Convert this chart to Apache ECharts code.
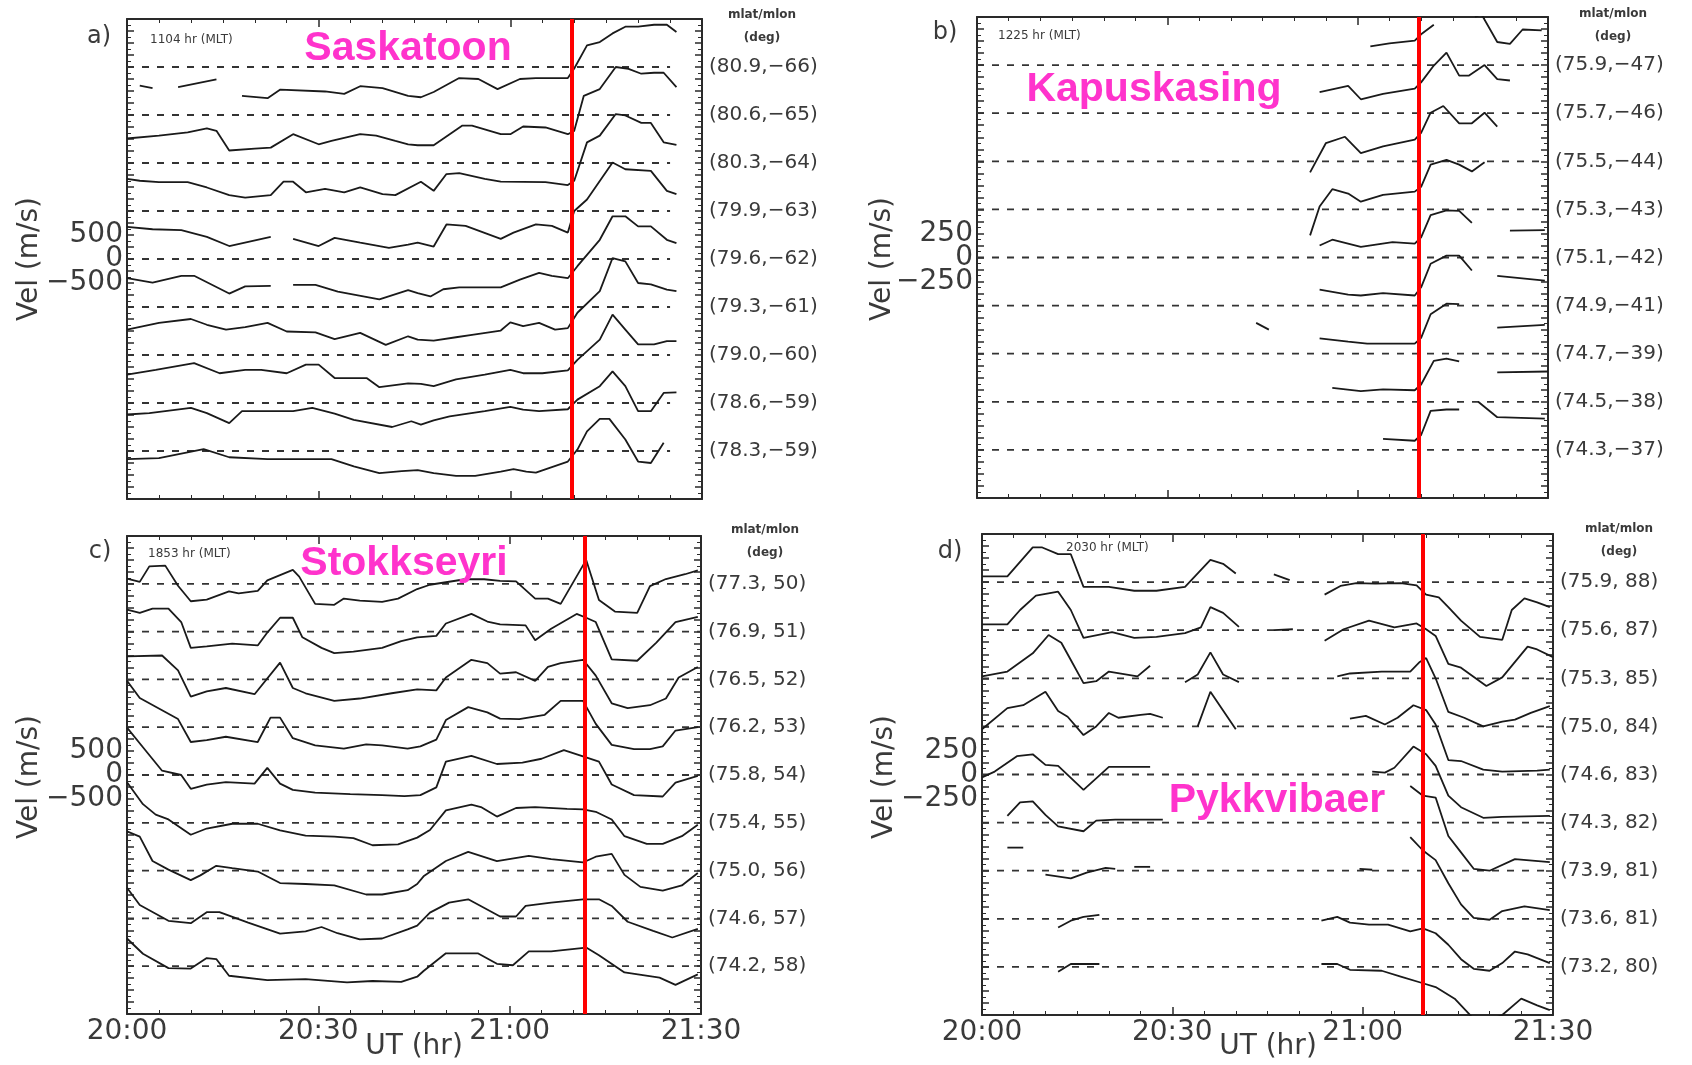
<!DOCTYPE html>
<html>
<head>
<meta charset="utf-8">
<script src="https://cdn.jsdelivr.net/npm/echarts@6/dist/echarts.min.js"></script>
<style>
  html, body { margin: 0; padding: 0; background: #fff; }
  #chart { width: 1692px; height: 1065px; }
</style>
</head>
<body>
<div id="chart"></div>
<script>
// time axis is minutes after 20:00 UT
const xTickLabels = ['20:00', '20:30', '21:00', '21:30'];
const stations = ['Saskatoon', 'Kapuskasing', 'Stokkseyri', 'Pykkvibaer'];
const panelTags = ['a)', 'b)', 'c)', 'd)'];
const mltText = ['1104 hr (MLT)', '1225 hr (MLT)', '1853 hr (MLT)', '2030 hr (MLT)'];
const slotVel = [1000, 500, 1000, 500];          // m/s between stacked traces
const velTicks = [[500, 0, -500], [250, 0, -250], [500, 0, -500], [250, 0, -250]];
const onsetMin = [69.6, 69.6, 71.8, 69.5];        // red line
const baseEnd = [85, 90, 90, 90];                 // end of dashed zero lines

const beamsA = ['(80.9,\u221266)', '(80.6,\u221265)', '(80.3,\u221264)', '(79.9,\u221263)', '(79.6,\u221262)', '(79.3,\u221261)', '(79.0,\u221260)', '(78.6,\u221259)', '(78.3,\u221259)'];
const beamsB = ['(75.9,\u221247)', '(75.7,\u221246)', '(75.5,\u221244)', '(75.3,\u221243)', '(75.1,\u221242)', '(74.9,\u221241)', '(74.7,\u221239)', '(74.5,\u221238)', '(74.3,\u221237)'];
const beamsC = ['(77.3, 50)', '(76.9, 51)', '(76.5, 52)', '(76.2, 53)', '(75.8, 54)', '(75.4, 55)', '(75.0, 56)', '(74.6, 57)', '(74.2, 58)'];
const beamsD = ['(75.9, 88)', '(75.6, 87)', '(75.3, 85)', '(75.0, 84)', '(74.6, 83)', '(74.3, 82)', '(73.9, 81)', '(73.6, 81)', '(73.2, 80)'];

// [minute, velocity m/s], null = data gap; top trace first
const velA = [
  [[2,-390],[4,-440],null,[8,-420],[14,-260],null,[18,-600],[22,-650],[24,-470],[31,-510],[34,-560],[36.5,-400],[40,-440],[44,-600],[46,-630],[48,-520],[52,-230],[55,-250],[58,-460],[61.5,-250],[64,-230],[69,-230],[70,-30],[72,450],[74,520],[76,700],[78,840],[80,840],[82.5,880],[84.5,880],[86,730]],
  [[0,-490],[5,-430],[9.5,-360],[12.5,-280],[14,-330],[16,-740],[20,-700],[22.5,-680],[26,-400],[30,-610],[32,-540],[36.5,-400],[39,-430],[42,-540],[44,-610],[45.5,-630],[48,-630],[52.5,-220],[54,-220],[58.5,-400],[60,-400],[62,-240],[65.5,-260],[69,-400],[70,-330],[71.5,400],[74,540],[76.5,1000],[78.5,960],[80.5,860],[82.5,880],[84,880],[86,580]],
  [[0,-330],[2,-370],[5,-400],[9.5,-400],[12.5,-510],[16,-670],[18.5,-720],[22.5,-670],[24.5,-390],[26,-390],[28,-610],[31,-540],[34,-610],[36.5,-510],[40,-650],[42,-670],[46,-390],[48,-580],[50,-230],[52,-210],[56,-330],[58.5,-390],[65.5,-400],[69,-460],[70,-370],[72,430],[74,570],[76.5,1020],[78,990],[80.5,835],[82,835],[84,430],[86,380]],
  [[0,-330],[4,-380],[8.5,-400],[12.5,-540],[16,-730],[22.5,-540],null,[26,-580],[30,-730],[32.5,-560],[36.5,-660],[41,-770],[44,-700],[45.5,-660],[48,-740],[50,-280],[53,-310],[58.5,-580],[60.5,-450],[64,-280],[66.5,-310],[69,-450],[70,0],[72,240],[76,1010],[78,870],[82,835],[84.5,420],[86,350]],
  [[0,-400],[4,-490],[8.5,-350],[10.5,-350],[16,-720],[18.5,-570],[22.5,-560],null,[26,-540],[29.5,-540],[33,-680],[39.5,-840],[44,-650],[45.5,-710],[47.5,-780],[49.5,-630],[52,-590],[58.5,-590],[61.5,-430],[64.5,-290],[66.5,-350],[69,-400],[70.5,-150],[74,400],[76,890],[78,890],[80,680],[82,680],[84.5,400],[86,330]],
  [[0,-470],[5,-330],[10,-250],[12.5,-370],[15.5,-470],[18.5,-420],[22,-330],[25,-510],[29.5,-530],[32.5,-670],[36.5,-540],[40.5,-790],[44,-610],[45.5,-680],[48,-700],[51.5,-630],[54,-580],[58.5,-490],[60,-320],[62,-400],[64.5,-330],[67,-470],[69,-440],[70.5,-120],[74,330],[76,1020],[78,950],[80,500],[82,470],[84.5,360],[86,330]],
  [[0,-410],[4.5,-310],[10.5,-170],[14.5,-380],[18.5,-310],[21,-310],[25,-380],[28,-200],[30,-200],[32.5,-480],[37.5,-480],[39.5,-670],[44,-590],[46,-600],[48,-650],[51.5,-510],[56,-410],[60,-310],[62,-380],[65,-380],[69,-320],[70.5,-100],[74,320],[76,840],[78,530],[80,220],[82.5,220],[84.5,290],[86,290]],
  [[0,-240],[3.5,-210],[10,-100],[12.5,-210],[16,-420],[18,-170],[26,-170],[29,-100],[32.5,-220],[35.5,-350],[41.5,-500],[44.5,-380],[46,-450],[48,-360],[50.5,-280],[56,-170],[60,-80],[62,-140],[64.5,-170],[69,-130],[70.5,70],[74,350],[76,660],[78,350],[80,-170],[82,-170],[84,210],[86,220]],
  [[0,-170],[5,-150],[12,40],[16,-130],[22,-170],[32,-170],[35.5,-320],[39.5,-460],[43,-420],[45.5,-400],[48,-460],[51.5,-520],[54.5,-520],[58.5,-430],[60.5,-380],[62.5,-430],[64,-450],[69,-220],[70.5,30],[72,410],[74,670],[75.5,670],[78,240],[80,-220],[82,-250],[84,170]]
];

const velB = [
  [[62,195],[65,225],[69,255],[70,320],[72,420],null,[78.5,500],[79.5,530],[82,240],[84,220],[86,370],[89,360]],
  [[54,220],[58.5,285],[60.5,145],[64,200],[69,255],[70,320],[72,495],[74,630],[76,390],[77.5,390],[80,500],[82,355],[84,340]],
  [[52.5,-115],[55,190],[58,255],[60.5,85],[64,155],[69,225],[70,295],[71.5,505],[73.5,575],[76,395],[78,395],[80,505],[82,360]],
  [[52.5,-270],[54,30],[56,210],[58.5,165],[60.5,80],[64,150],[69,185],[70,235],[71.5,465],[74,515],[76,465],[78,395],[80,490]],
  [[54,125],[56,185],[60.5,110],[65.5,160],[69,145],[70,210],[71.5,440],[74,490],[76,485],[78,360],null,[84,280],[89.5,285]],
  [[54,165],[58.5,115],[60.5,105],[64,130],[69,105],[70,190],[71.5,435],[74,520],[76,520],[78,365],null,[82,310],[89.5,260]],
  [[44,320],[46,250],null,[54,160],[58.5,125],[61.5,105],[69,105],[70,165],[71.5,410],[74,520],[76,515],null,[82,270],[89.5,300]],
  [[56,145],[60.5,110],[64,130],[69,120],[70,180],[72,425],[74,450],[76,420],null,[82,305],[90,315]],
  [[64,115],[69,95],[70,155],[71.5,405],[74,420],[76,420],null,[79,500],[82,340],[89.5,325]]
];

const velC = [
  [[0,110],[2,40],[3.5,365],[6,380],[8,-40],[10,-365],[12.5,-330],[16,-160],[17.5,-200],[20.5,-150],[22,70],[26,290],[27,150],[29.5,-420],[32.5,-440],[34,-310],[36.5,-350],[40,-380],[42.5,-310],[45.5,-110],[47.5,-20],[53,95],[56,95],[58.5,60],[61,50],[64,-310],[66,-310],[68,-420],[72,500],[74,-340],[76.5,-580],[80,-610],[82,-50],[84.5,100],[87.5,200],[89.5,280]],
  [[0,460],[2,390],[4,480],[6.5,480],[8.5,200],[10,-340],[12.5,-310],[16.5,-250],[20.5,-290],[22,-20],[24,290],[26,290],[27.5,-120],[30.5,-340],[32.5,-450],[35.5,-420],[40,-340],[43,-200],[45.5,-120],[48.5,-90],[50,170],[54,370],[56.5,210],[58.5,150],[62.5,130],[64,-180],[66.5,60],[70.5,370],[72,290],[73.5,200],[76,-580],[80,-610],[83,-230],[86,200],[89.5,310]],
  [[0,480],[5.5,500],[8,190],[10,-360],[12.5,-250],[15.5,-180],[20,-310],[24,350],[26,-180],[28,-290],[32.5,-450],[36.5,-400],[41.5,-290],[45.5,-210],[48.5,-230],[50,40],[54,410],[56.5,340],[58.5,120],[61,150],[64,-30],[66,260],[68,340],[71.5,410],[73.5,80],[76,-500],[78.5,-600],[82,-540],[84.5,-400],[86.5,40],[89.5,260]],
  [[0,970],[2,610],[5,390],[8,170],[10,-310],[12.5,-270],[15.5,-200],[20.5,-310],[22.5,200],[24,200],[26,-230],[29.5,-380],[34,-450],[37.5,-360],[40,-380],[44,-450],[46,-400],[48.5,-260],[50,150],[53.5,420],[56.5,310],[58.5,180],[61.5,170],[65.5,260],[68,550],[71.5,550],[73.5,70],[76,-370],[79.5,-460],[82,-460],[84,-400],[86,-70],[89.5,0]],
  [[0,990],[2.5,580],[5.5,90],[8.5,0],[10,-290],[12.5,-200],[15.5,-150],[20,-180],[22,150],[24,-180],[26,-310],[29.5,-370],[35,-400],[40,-420],[43.5,-440],[46,-420],[48.5,-260],[50,280],[54,400],[58,230],[62,260],[65,340],[68.5,520],[71.5,390],[74,280],[76,-200],[79.5,-420],[84,-450],[86,-160],[89.5,-20]],
  [[0,850],[2.5,390],[4.5,170],[6.5,70],[10,-250],[12.5,-120],[16.5,-20],[20.5,-20],[24,-160],[28,-270],[32.5,-290],[35.5,-320],[38.5,-470],[42.5,-450],[45.5,-310],[47.5,-150],[50,260],[54,380],[55.5,330],[58,130],[61,310],[64,330],[69,290],[71.5,280],[73.5,230],[76,70],[78,-280],[81.5,-440],[84,-440],[87,-280],[89.5,-40]],
  [[0,820],[2,710],[4,200],[6.5,20],[10,-200],[11.5,-100],[14,100],[16.5,50],[20.5,-20],[24,-260],[28,-280],[32.5,-310],[37.5,-500],[40,-500],[44,-410],[45.5,-280],[46.5,-120],[50,200],[53.5,390],[58,200],[63,310],[66.5,240],[71.5,170],[73.5,290],[76,350],[78,-90],[80.5,-340],[84,-420],[87,-310],[89.5,-50]],
  [[0,640],[2,280],[6.5,-50],[10,-100],[12.5,130],[14.5,130],[19,-90],[24,-320],[28,-270],[30.5,-180],[33,-310],[36.5,-440],[40,-420],[44,-230],[45.5,-150],[47.5,120],[50.5,330],[53.5,400],[58.5,40],[61,40],[62.5,260],[66.5,330],[71.5,400],[74,400],[76,260],[78.5,-70],[82.5,-260],[85.5,-400],[89.5,-220]],
  [[0,580],[2.5,260],[6.5,-40],[10,-50],[12.5,170],[14,150],[16,-200],[22,-290],[28,-270],[34.5,-340],[38.5,-310],[43,-330],[45.5,-220],[46.5,-100],[50,270],[55,270],[58,50],[60.5,20],[63,310],[66.5,310],[72,390],[74,230],[78,-130],[83.5,-240],[86,-390],[89.5,-170]]
];

const velD = [
  [[0,60],[4,60],[8,360],[9.5,360],[12,290],[14,290],[16,-50],[20,-50],[24,-90],[27.5,-90],[32,-50],[33,20],[36,230],[38,190],[40,90],null,[46,80],[48.5,20],null,[54,-130],[56.5,-40],[59,-10],[62,-15],[66,-10],[68.5,-35],[70,-130],[72,-160],[73.5,-260],[75.5,-400],[78.5,-570],[82,-600],[83.5,-290],[85.5,-170],[87.5,-210],[89.5,-260]],
  [[0,60],[4,60],[6,210],[8.5,360],[12,400],[14,210],[16,-80],[20.5,-20],[24,-80],[27.5,-70],[32,-30],[34.5,30],[36,240],[38,180],[40.5,35],null,[46,0],[49,10],null,[54,-110],[57,10],[61,100],[65,30],[68.5,70],[70,10],[71.5,-60],[73.5,-350],[75.5,-390],[79.5,-580],[82,-490],[86,-170],[87.5,-200],[90,-280]],
  [[0,20],[4,70],[8,260],[10.5,450],[12.5,370],[14,190],[16,-50],[18,-30],[20,70],[24.5,20],[26.5,130],null,[32,-40],[34,40],[36,270],[38,40],[40.5,-40],null,[56,20],[58,50],[63,70],[67.5,70],[69,170],[70,210],[71.5,0],[73.5,-350],[76,-410],[79,-500],[82,-450],[84,-430],[86.5,-360],[89.5,-290]],
  [[0,-30],[4,190],[6.5,220],[10,360],[12,160],[13.5,100],[16,-90],[18,0],[20,140],[21.5,90],[25,120],[26.5,130],[28.5,90],null,[34,0],[36,360],[40,-30],null,[58,80],[60.5,110],[63.5,20],[65.5,90],[68,220],[70,170],[71.5,20],[73.5,-350],[75.5,-360],[79,-450],[82,-470],[87.5,-460],[89.5,-450]],
  [[0,-30],[2,30],[5.5,190],[8,210],[10,100],[12,90],[16,-160],[20,80],[26.5,80],null,[61.5,30],[63.5,20],[65,70],[68,290],[70,210],[71.5,90],[73.5,-220],[75.5,-340],[79,-450],[82,-440],[89.5,-430]],
  [[4,70],[6,210],[8,220],[10,80],[12,-40],[16,-90],[18,20],[21,30],[28.5,30],null,[67.5,380],[69.5,280],[71.5,260],[73.5,-140],[75.5,-310],[77.5,-480],[80,-500],[84,-380],[89.5,-410]],
  [[4,240],[6.5,240],null,[10,-40],[14,-80],[16.5,-20],[19.5,30],[21,20],null,[24,40],[26.5,40],null,[59.5,20],[61.5,10],null,[67.5,350],[69.5,210],[71.5,110],[73.5,-130],[75.5,-350],[77.5,-490],[80,-510],[82,-420],[85.5,-370],[89.5,-410]],
  [[12,-90],[14,-20],[16,20],[18.5,40],null,[53.5,-20],[56,20],[58,-40],[61,-60],[64,-60],[67.5,-130],[69.5,-100],[71.5,-150],[73.5,-270],[75.5,-420],[77.5,-520],[80,-540],[82,-460],[84,-340],[86,-370],[89.5,-460]],
  [[12,-50],[14,30],[18.5,30],null,[53.5,30],[56,30],[58,-30],[63,-40],[66,-100],[69.5,-170],[71.5,-210],[74.5,-330],[77.5,-540],[80,-550],[82,-500],[85,-330],[87.5,-400],[89.5,-450]]
];

const panelVel = [velA, velB, velC, velD];
const panelBeams = [beamsA, beamsB, beamsC, beamsD];

// layout (pixels)
const grids = [
  { left: 127, top: 19, width: 575, height: 480 },
  { left: 977, top: 17, width: 571, height: 481 },
  { left: 127, top: 536, width: 574, height: 478 },
  { left: 982, top: 534, width: 571, height: 481 }
];
const tagPos = [[99, 37], [945, 33], [100, 552], [950, 552]];
const mltPos = [[150, 40], [998, 36], [148, 554], [1066, 548]];
const namePos = [[408, 49], [1154, 90], [404, 564], [1277, 801]];
const velNamePos = [[30, 259], [883, 259], [30, 777], [885, 777]];
const degPos = [[762, 15], [1613, 14], [765, 530], [1619, 529]];
const utPos = [[414, 1047], [1268, 1047]];

const ink = '#2a2a2a';
const txt = '#3a3a3a';
const dejavu = '"DejaVu Sans", sans-serif';

function segments(trace) {
  const out = [];
  let cur = [];
  trace.forEach(p => {
    if (p === null) { if (cur.length) out.push(cur); cur = []; }
    else cur.push(p);
  });
  if (cur.length) out.push(cur);
  return out;
}

const xAxes = [], yAxes = [], series = [], graphics = [];

grids.forEach((g, p) => {
  const S = slotVel[p];
  const bottomRow = p >= 2;
  const tickCommon = {
    axisLine: { onZero: false, lineStyle: { color: ink, width: 2 } },
    axisTick: { inside: true, length: 8, lineStyle: { color: ink, width: 1.5 } },
    minorTick: { show: true, splitNumber: 6, length: 4, lineStyle: { color: ink } },
    splitLine: { show: false }
  };
  xAxes.push(Object.assign({
    gridIndex: p, type: 'value', min: 0, max: 90, interval: 30, position: 'bottom',
    axisLabel: {
      show: bottomRow, margin: 4, fontSize: 28, fontFamily: dejavu, color: txt,
      formatter: v => xTickLabels[Math.round(v / 30)]
    }
  }, tickCommon));
  xAxes.push(Object.assign({
    gridIndex: p, type: 'value', min: 0, max: 90, interval: 30, position: 'top',
    axisLabel: { show: false }
  }, tickCommon));

  const yCommon = {
    gridIndex: p, type: 'value', min: -S, max: 9 * S, interval: S / 4,
    axisLine: { onZero: false, lineStyle: { color: ink, width: 2 } },
    axisTick: { inside: true, length: 7, lineStyle: { color: ink, width: 1.5 } },
    minorTick: { show: true, splitNumber: 2, length: 4, lineStyle: { color: ink } },
    splitLine: { show: false }
  };
  yAxes.push(Object.assign({}, yCommon, {
    position: 'left',
    axisLabel: {
      margin: 4, fontSize: 28, fontFamily: dejavu, color: txt,
      formatter: v => {
        const d = Math.round(v - 4 * S);
        return velTicks[p].indexOf(d) >= 0 ? String(d).replace('-', '\u2212') : '';
      }
    }
  }));
  yAxes.push(Object.assign({}, yCommon, {
    position: 'right',
    axisLabel: {
      margin: 7, fontSize: 20, fontFamily: dejavu, color: txt,
      formatter: v => {
        const k = v / S;
        if (Math.abs(k - Math.round(k)) > 1e-6) return '';
        const idx = 8 - Math.round(k);
        return idx >= 0 && idx <= 8 ? panelBeams[p][idx] : '';
      }
    }
  }));

  // dashed zero lines, one per beam
  panelVel[p].forEach((tr, i) => {
    const off = (8 - i) * S;
    const base = {
      type: 'line', xAxisIndex: 2 * p, yAxisIndex: 2 * p, silent: true,
      showSymbol: false, z: 1,
      lineStyle: { color: '#333', width: 1.8, type: [7, 8] },
      data: [[0, off], [baseEnd[p], off]]
    };
    if (i === 0) {
      base.markLine = {
        silent: true, symbol: 'none', label: { show: false }, z: 5,
        lineStyle: { color: '#ff0000', width: 4, type: 'solid' },
        data: [{ xAxis: onsetMin[p] }]
      };
    }
    series.push(base);
  });

  // velocity traces
  panelVel[p].forEach((tr, i) => {
    const off = (8 - i) * S;
    segments(tr).forEach(seg => {
      series.push({
        type: 'line', xAxisIndex: 2 * p, yAxisIndex: 2 * p, silent: true,
        showSymbol: false, z: 3,
        lineStyle: { color: '#1a1a1a', width: 1.8 },
        data: seg.map(([t, v]) => [t, off + v])
      });
    });
  });

  graphics.push(
    { type: 'text', x: tagPos[p][0], y: tagPos[p][1],
      style: { text: panelTags[p], font: '24px "DejaVu Sans"', fill: txt, align: 'center', verticalAlign: 'middle' } },
    { type: 'text', x: mltPos[p][0], y: mltPos[p][1],
      style: { text: mltText[p], font: '12px "DejaVu Sans"', fill: txt, align: 'left', verticalAlign: 'middle' } },
    { type: 'text', x: namePos[p][0], y: namePos[p][1], z: 10,
      style: { text: stations[p], font: 'bold 41px "Liberation Sans", Arial, sans-serif', fill: '#ff33cc', align: 'center', verticalAlign: 'middle' } },
    { type: 'text', x: velNamePos[p][0], y: velNamePos[p][1], rotation: Math.PI / 2,
      style: { text: 'Vel (m/s)', font: '28px "DejaVu Sans"', fill: txt, align: 'center', verticalAlign: 'middle' } },
    { type: 'text', x: degPos[p][0], y: degPos[p][1],
      style: { text: 'mlat/mlon', font: 'bold 12px "DejaVu Sans"', fill: txt, align: 'center', verticalAlign: 'middle' } },
    { type: 'text', x: degPos[p][0], y: degPos[p][1] + 23,
      style: { text: '(deg)', font: 'bold 12px "DejaVu Sans"', fill: txt, align: 'center', verticalAlign: 'middle' } }
  );
});

utPos.forEach(([x, y]) => {
  graphics.push({ type: 'text', x: x, y: y,
    style: { text: 'UT (hr)', font: '28px "DejaVu Sans"', fill: txt, align: 'center', verticalAlign: 'middle' } });
});

const chart = echarts.init(document.getElementById('chart'), null, { renderer: 'canvas' });
chart.setOption({
  backgroundColor: '#ffffff',
  animation: false,
  grid: grids.map(g => Object.assign({ containLabel: false }, g)),
  xAxis: xAxes,
  yAxis: yAxes,
  series: series,
  graphic: graphics
});
</script>
</body>
</html>
